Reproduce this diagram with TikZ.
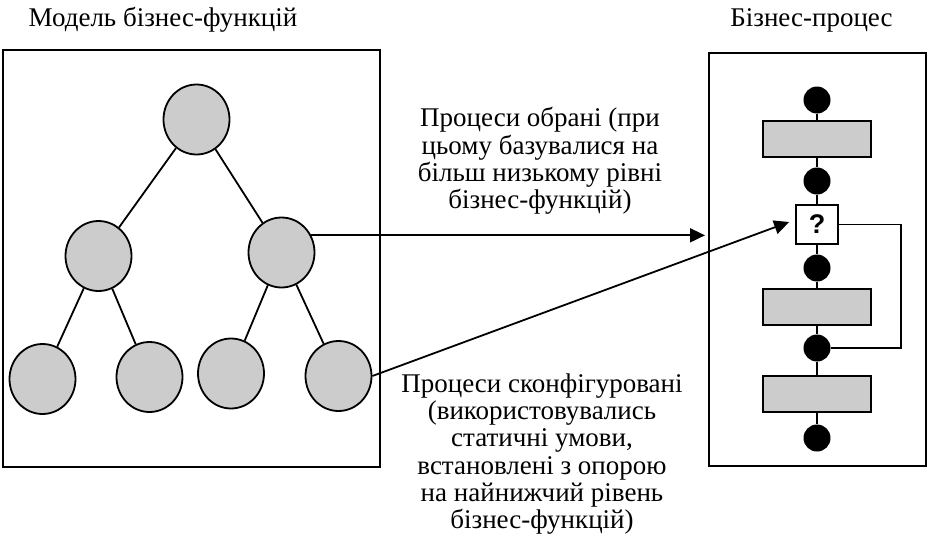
\documentclass[tikz,border=0pt]{standalone}
\usepackage{fontspec}
\setmainfont{Liberation Serif}
\newfontfamily\qmark{Liberation Sans}
\usetikzlibrary{shapes.geometric,arrows.meta}
\definecolor{boxgray}{RGB}{204,204,204}
\tikzstyle{func}=[ellipse, minimum width=66pt, minimum height=70pt, inner sep=0pt, draw=black, fill=boxgray]
\tikzstyle{event}=[circle, minimum size=27pt, inner sep=0pt, fill=black]
\tikzstyle{activity}=[rectangle, minimum width=108pt, minimum height=36pt, draw=black, fill=boxgray]
\tikzstyle{choice}=[rectangle, minimum width=42pt, minimum height=39pt, inner sep=0pt, draw=black, fill=white, font=\qmark\bfseries\fontsize{27}{27}\selectfont]
\tikzstyle{note}=[align=center, inner sep=0pt, font=\fontsize{27}{27.3}\selectfont]
\tikzstyle{link}=[line width=1.8pt]
\tikzstyle{arrow2}=[line width=1.8pt,-{Triangle[length=15pt,width=14pt]}]

\begin{document}
\begin{tikzpicture}[x=1pt, y=1pt, line width=1.8pt, node distance = 42pt]
\useasboundingbox (0,0) rectangle (927,-539);
% titles
\node (ttl1) [note, anchor=base] at (163,-26) {Модель бізнес-функцій};
\node (ttl2) [note, anchor=base] at (811.5,-26) {Бізнес-процес};
\draw (3,-50) rectangle (380,-467);
\draw (709,-53) rectangle (926,-466);
% function tree
\node (root) [func] at (196.5,-119.5) {};
\node (midl) [func] at (98.5,-256) {};
\node (midr) [func] at (281.5,-252.5) {};
\node (low1) [func] at (42.5,-379) {};
\node (low2) [func] at (149.5,-377) {};
\node (low3) [func] at (231,-373.5) {};
\node (low4) [func] at (338.5,-376) {};
\draw[link](root)--(midl);
\draw[link](root)--(midr);
\draw[link](midl)--(low1);
\draw[link](midl)--(low2);
\draw[link](midr)--(low3);
\draw[link](midr)--(low4);
% process
\node (ev1) [event] at (817,-100) {};
\node (act1) [activity, below of = ev1, yshift = 3pt] {};
\node (ev2) [event, below of = act1] {};
\node (xor) [choice, below of = ev2, yshift = -1.5pt] {?};
\node (ev3) [event, below of = xor, yshift = -1.5pt] {};
\node (act2) [activity, below of = ev3, yshift = 3pt] {};
\node (ev4) [event, below of = act2, yshift = 1pt] {};
\node (act3) [activity, below of = ev4, yshift = -4pt] {};
\node (ev5) [event, below of = act3, yshift = -2pt] {};
\draw[link](ev1)--(act1)--(ev2)--(xor)--(ev3)--(act2)--(ev4)--(act3)--(ev5);
\draw[link](xor.east)--++(62,0)|-(ev4.east);
% mapping
\coordinate (tip1) at (705,-235);
\draw[arrow2](midr.30)--(midr.30 -| tip1);
\draw[arrow2](low4.east)--([shift={(-6pt,2.5pt)}]xor.west);
\node (chosen) [note, anchor=north] at (540,-106.5) {Процеси обрані (при\\цьому базувалися на\\більш низькому рівні\\бізнес-функцій)};
\node (config) [note, anchor=north] at (542,-372.5) {Процеси сконфігуровані\\(використовувались\\статичні умови,\\встановлені з опорою\\на найнижчий рівень\\бізнес-функцій)};
\end{tikzpicture}
\end{document}
